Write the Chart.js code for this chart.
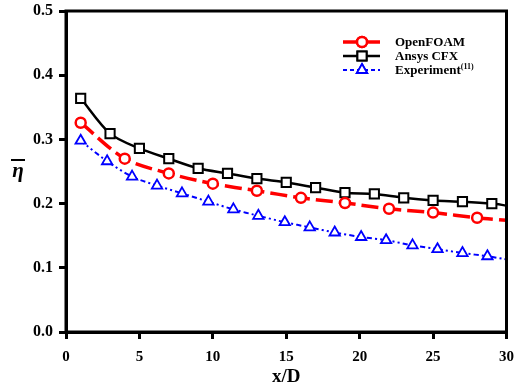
<!DOCTYPE html>
<html lang="en">
<head>
  <meta charset="UTF-8">
  <title>Film cooling effectiveness</title>
  <style>
    body {
      margin: 0;
      padding: 0;
      background: #fff;
      overflow: hidden;
    }
    .chart-box {
      position: relative;
      width: 515px;
      height: 388px;
    }
  </style>
</head>
<body>
<div class="chart-box">
  <canvas id="etaChart" width="515" height="388"></canvas>
</div>

<script src="https://cdn.jsdelivr.net/npm/chart.js"></script>
<script>
  // Averaged effectiveness along the plate (last point of each series closes the curve at x/D = 30)
  const xOpenFoam = [1, 4, 7, 10, 13, 16, 19, 22, 25, 28, 30];
  const etaOpenFoam = [0.326, 0.270, 0.247, 0.231, 0.220, 0.209, 0.201, 0.192, 0.186, 0.178, 0.174];

  const xCfx = [1, 3, 5, 7, 9, 11, 13, 15, 17, 19, 21, 23, 25, 27, 29, 30];
  const etaCfx = [0.364, 0.309, 0.286, 0.270, 0.255, 0.247, 0.239, 0.233, 0.225, 0.217, 0.215, 0.209, 0.205, 0.203, 0.200, 0.197];

  const xExp = [1, 2.8, 4.5, 6.2, 7.9, 9.7, 11.4, 13.1, 14.9, 16.6, 18.3, 20.1, 21.8, 23.6, 25.3, 27.0, 28.7, 30];
  const etaExp = [0.298, 0.266, 0.242, 0.228, 0.216, 0.203, 0.191, 0.181, 0.171, 0.163, 0.155, 0.148, 0.143, 0.135, 0.129, 0.123, 0.118, 0.113];

  const xTicks = [0, 5, 10, 15, 20, 25, 30];
  const yTicks = [0.0, 0.1, 0.2, 0.3, 0.4, 0.5];

  const serif = '"Liberation Serif", "Times New Roman", serif';

  function toPoints(xs, ys) {
    return xs.map((x, i) => ({ x: x, y: ys[i] }));
  }

  // no marker on the closing point
  function markerSize(size) {
    return ctx => ctx.dataIndex === ctx.dataset.data.length - 1 ? 0 : size;
  }

  // frame, y-axis symbol and the legend box
  const decorations = {
    id: 'decorations',
    afterDraw(chart) {
      const ctx = chart.ctx;
      const a = chart.chartArea;
      ctx.save();
      ctx.strokeStyle = '#000';
      ctx.lineWidth = 3;
      ctx.strokeRect(a.left, a.top, a.right - a.left, a.bottom - a.top);

      // eta with overbar
      ctx.fillStyle = '#000';
      ctx.font = 'italic bold 21px ' + serif;
      ctx.textAlign = 'center';
      ctx.textBaseline = 'alphabetic';
      ctx.fillText('η', 18, 177);
      ctx.lineWidth = 2;
      ctx.beginPath();
      ctx.moveTo(11, 160);
      ctx.lineTo(25, 160);
      ctx.stroke();

      // legend
      const rows = [
        { ds: chart.data.datasets[0], y: 42, label: 'OpenFOAM' },
        { ds: chart.data.datasets[1], y: 56, label: 'Ansys CFX' },
        { ds: chart.data.datasets[2], y: 70, label: 'Experiment', sup: '(11)' }
      ];
      rows.forEach(r => {
        ctx.strokeStyle = r.ds.borderColor;
        ctx.lineWidth = r.ds.borderWidth;
        ctx.setLineDash(r.ds.legendDash || []);
        ctx.beginPath();
        ctx.moveTo(343, r.y);
        ctx.lineTo(380, r.y);
        ctx.stroke();
        ctx.setLineDash([]);
        ctx.lineWidth = r.ds.pointBorderWidth;
        Chart.helpers.drawPoint(ctx, {
          pointStyle: r.ds.pointStyle,
          radius: r.ds.legendRadius,
          borderWidth: r.ds.pointBorderWidth
        }, 362, r.y);
        ctx.fillStyle = '#fff';
        ctx.fill();
        ctx.stroke();

        ctx.fillStyle = '#000';
        ctx.font = 'bold 13px ' + serif;
        ctx.textAlign = 'left';
        ctx.textBaseline = 'middle';
        ctx.fillText(r.label, 395, r.y + 1);
        if (r.sup) {
          const w = ctx.measureText(r.label).width;
          ctx.font = 'bold 8px ' + serif;
          ctx.fillText(r.sup, 395 + w, r.y - 3);
        }
      });
      ctx.restore();
    }
  };

  const ctx = document.getElementById('etaChart').getContext('2d');
  const etaChart = new Chart(ctx, {
    type: 'line',
    data: {
      datasets: [
        {
          label: 'OpenFOAM',
          data: toPoints(xOpenFoam, etaOpenFoam),
          borderColor: '#ff0000',
          borderWidth: 3.5,
          borderDash: [17, 6],
          legendDash: [],
          tension: 0.3,
          pointStyle: 'circle',
          pointRadius: markerSize(5),
          legendRadius: 5,
          pointBorderWidth: 2.5,
          pointBackgroundColor: '#fff',
          pointBorderColor: '#ff0000'
        },
        {
          label: 'Ansys CFX',
          data: toPoints(xCfx, etaCfx),
          borderColor: '#000',
          borderWidth: 2.5,
          tension: 0.3,
          legendDash: [],
          pointStyle: 'rect',
          pointRadius: markerSize(6.5),
          legendRadius: 6.5,
          pointBorderWidth: 2,
          pointBackgroundColor: '#fff',
          pointBorderColor: '#000'
        },
        {
          label: 'Experiment',
          data: toPoints(xExp, etaExp),
          borderColor: '#0000ff',
          borderWidth: 2,
          borderDash: [5, 3, 2, 3, 2, 3],
          legendDash: [4, 3],
          tension: 0.3,
          pointStyle: 'triangle',
          pointRadius: markerSize(6),
          legendRadius: 6,
          pointBorderWidth: 1.8,
          pointBackgroundColor: '#fff',
          pointBorderColor: '#0000ff'
        }
      ]
    },
    options: {
      responsive: false,
      animation: false,
      layout: { padding: { left: 0, right: 5, top: 11, bottom: 0 } },
      plugins: {
        legend: { display: false },
        tooltip: { enabled: false }
      },
      scales: {
        x: {
          type: 'linear',
          min: 0,
          max: 30,
          afterBuildTicks: scale => { scale.ticks = xTicks.map(v => ({ value: v })); },
          afterFit: scale => {
            scale.height = 56;
            scale.paddingLeft = 0;
            scale.paddingRight = 0;
          },
          grid: {
            drawOnChartArea: false,
            drawTicks: true,
            tickLength: 7,
            lineWidth: 3,
            color: '#000'
          },
          border: { display: true, color: '#000', width: 3 },
          ticks: {
            color: '#000',
            padding: 9,
            maxRotation: 0,
            font: { family: serif, size: 15, weight: 'bold' }
          },
          title: {
            display: true,
            text: 'x/D',
            color: '#000',
            padding: { top: 0, bottom: 0 },
            font: { family: serif, size: 19, weight: 'bold' }
          }
        },
        y: {
          type: 'linear',
          min: 0,
          max: 0.5,
          afterBuildTicks: scale => { scale.ticks = yTicks.map(v => ({ value: v })); },
          afterFit: scale => {
            scale.width = 66;
            scale.paddingTop = 0;
            scale.paddingBottom = 0;
          },
          grid: {
            drawOnChartArea: false,
            drawTicks: true,
            tickLength: 7,
            lineWidth: 3,
            color: '#000'
          },
          border: { display: true, color: '#000', width: 3 },
          ticks: {
            color: '#000',
            padding: 6,
            callback: v => v.toFixed(1),
            font: { family: serif, size: 16, weight: 'bold' }
          }
        }
      }
    },
    plugins: [decorations]
  });
</script>
</body>
</html>
